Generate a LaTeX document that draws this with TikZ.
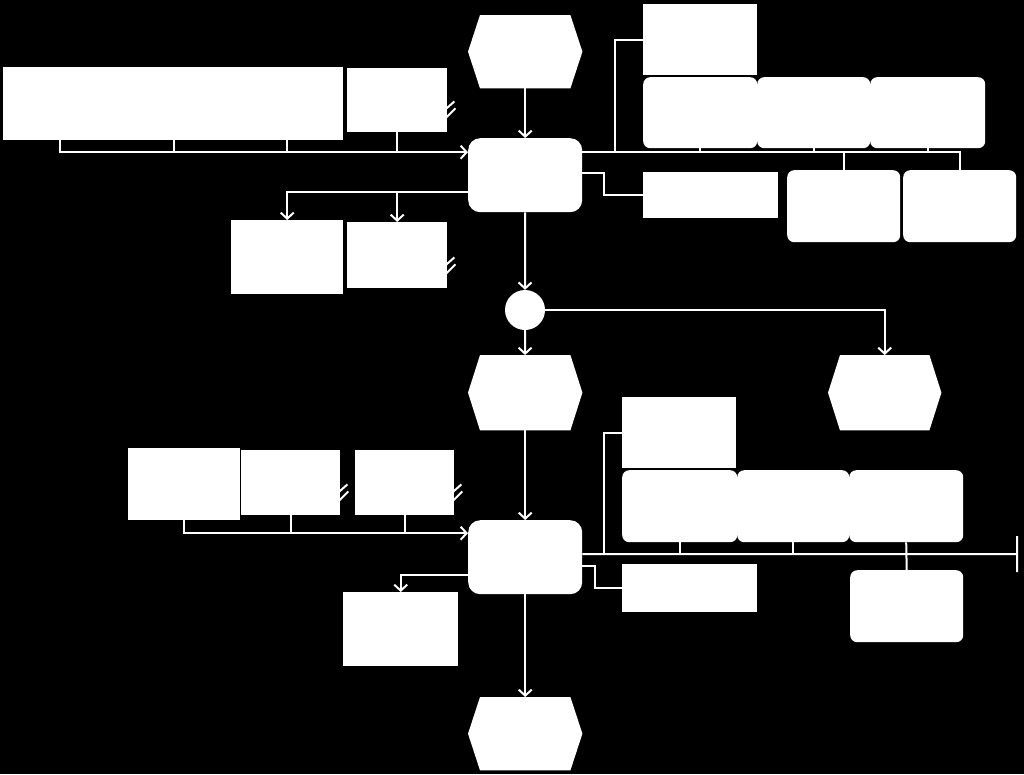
\documentclass[tikz,border=0pt]{standalone}
\usetikzlibrary{arrows.meta, positioning, calc}
\tikzset{
  box/.style={anchor=north west, fill=white, inner sep=0pt},
  info/.style={box},
  doc/.style={box},
  func/.style={box, rounded corners=12pt},
  orgu/.style={box, rounded corners=7pt},
  evt/.style={anchor=north west, inner sep=0pt},
  xorc/.style={circle, fill=white, minimum size=40pt, inner sep=0pt},
  link/.style={white, line width=2pt},
  flow/.style={link, -{Straight Barb[length=6pt,width=13pt]}},
}
\begin{document}
\begin{tikzpicture}[x=1pt,y=-1pt]
\fill[black] (0,0) rectangle (1024,774);
\useasboundingbox (0,0) rectangle (1024,774);
% first step
\node[evt, minimum width=114pt, minimum height=73pt] (ev1) at (468,15) {};
\node[func, minimum width=114pt, minimum height=74pt] (fn1) at (468,138) {};
\node[info, minimum width=114pt, minimum height=73pt] (inA) at (3,67) {};
\node[info, minimum width=113pt, minimum height=73pt] (inB) at (117,67) {};
\node[info, minimum width=113pt, minimum height=73pt] (inC) at (230,67) {};
\node[doc, minimum width=100pt, minimum height=64pt] (docD) at (347,68) {};
\node[info, minimum width=114pt, minimum height=71pt] (ot1) at (643,4) {};
\node[orgu, minimum width=114pt, minimum height=71pt] (ou1) at (643,77) {};
\node[orgu, minimum width=113pt, minimum height=71pt] (ou2) at (757,77) {};
\node[orgu, minimum width=115pt, minimum height=71pt] (ou3) at (870,77) {};
\node[info, minimum width=135pt, minimum height=46pt] (sys1) at (643,172) {};
\node[orgu, minimum width=113pt, minimum height=72pt] (ou4) at (787,170) {};
\node[orgu, minimum width=113pt, minimum height=72pt] (ou5) at (903,170) {};
\node[info, minimum width=112pt, minimum height=74pt] (out1) at (231,220) {};
\node[doc, minimum width=100pt, minimum height=66pt] (out2) at (347,222) {};
\node[xorc] (xor1) at (525,310) {};
\node[evt, minimum width=114pt, minimum height=75pt] (ev2) at (468,355) {};
\node[evt, minimum width=113pt, minimum height=75pt] (ev3) at (828,355) {};
% second step
\node[func, minimum width=114pt, minimum height=74pt] (fn2) at (468,520) {};
\node[info, minimum width=112pt, minimum height=72pt] (in2A) at (128,448) {};
\node[doc, minimum width=99pt, minimum height=65pt] (doc2B) at (241,450) {};
\node[doc, minimum width=99pt, minimum height=65pt] (doc2C) at (355,450) {};
\node[info, minimum width=114pt, minimum height=71pt] (ot2) at (622,397) {};
\node[orgu, minimum width=115pt, minimum height=72pt] (ou6) at (622,470) {};
\node[orgu, minimum width=112pt, minimum height=72pt] (ou7) at (737,470) {};
\node[orgu, minimum width=114pt, minimum height=72pt] (ou8) at (849,470) {};
\node[orgu, minimum width=113pt, minimum height=72pt] (ou9) at (850,570) {};
\node[info, minimum width=135pt, minimum height=48pt] (sys2) at (622,564) {};
\node[info, minimum width=115pt, minimum height=74pt] (out3) at (343,592) {};
\node[evt, minimum width=114pt, minimum height=73pt] (ev4) at (468,697) {};
\coordinate (end2) at (1018,554);
% events as hexagons
\foreach \e in {ev1,ev2,ev3,ev4}
  \fill[white] (\e.west) -- ([xshift=12pt]\e.north west) -- ([xshift=-12pt]\e.north east)
    -- (\e.east) -- ([xshift=-12pt]\e.south east) -- ([xshift=12pt]\e.south west) -- cycle;
% document marks
\foreach \d in {docD,out2,doc2B,doc2C} {
  \draw[link] ([shift={(-2pt,23pt)}]\d.south east) -- ++(9,-8);
  \draw[link] ([shift={(-2pt,14pt)}]\d.south east) -- ++(10,-10);
}
% connectors, first step
\draw[flow] (ev1) -- (fn1);
\coordinate (j1) at ([yshift=23pt]fn1.west);
\draw[flow] (inA.south) |- (j1);
\foreach \n in {inB,inC,docD}
  \draw[link] (\n.south) -- (\n.south |- j1);
\coordinate (j2) at ([yshift=23pt]fn1.east);
\draw[link] (j2) -- (ou5.north |- j2) -- (ou5.north);
\draw[link] (ou4.north) -- (ou4.north |- j2);
\foreach \n in {ou1,ou2,ou3}
  \draw[link] (\n.south) -- (\n.south |- j2);
\draw[link] (ot1.west) -| ([xshift=33pt]j2);
\draw[link] ([yshift=2pt]fn1.east) -- ++(22,0) |- (sys1.west);
\coordinate (j0) at ([yshift=-17pt]fn1.west);
\draw[flow] (j0) -| (out1.north);
\draw[flow] (j0 -| out2.north) -- (out2.north);
\draw[flow] (fn1) -- (xor1);
\draw[flow] (xor1) -- (ev2);
\draw[flow] (xor1) -| (ev3);
% connectors, second step
\draw[flow] (ev2) -- (fn2);
\coordinate (j3) at ([yshift=24pt]fn2.west);
\draw[flow] (in2A.south) |- (j3);
\foreach \n in {doc2B,doc2C}
  \draw[link] (\n.south) -- (\n.south |- j3);
\coordinate (j4) at ([yshift=3pt]fn2.east);
\draw[link, -{Bar[width=36pt]}] (j4) -- (end2);
\draw[link] (ot2.west) -| ([xshift=22pt]j4);
\foreach \n in {ou6,ou7}
  \draw[link] (\n.south) -- (\n.south |- j4);
\draw[link] (ou8.south) -- (ou9.north);
\draw[link] ([yshift=-9pt]fn2.east) -- ++(13,0) |- (sys2.west);
\draw[flow] ([yshift=-18pt]fn2.west) -| (out3.north);
\draw[flow] (fn2) -- (ev4);
\end{tikzpicture}
\end{document}
